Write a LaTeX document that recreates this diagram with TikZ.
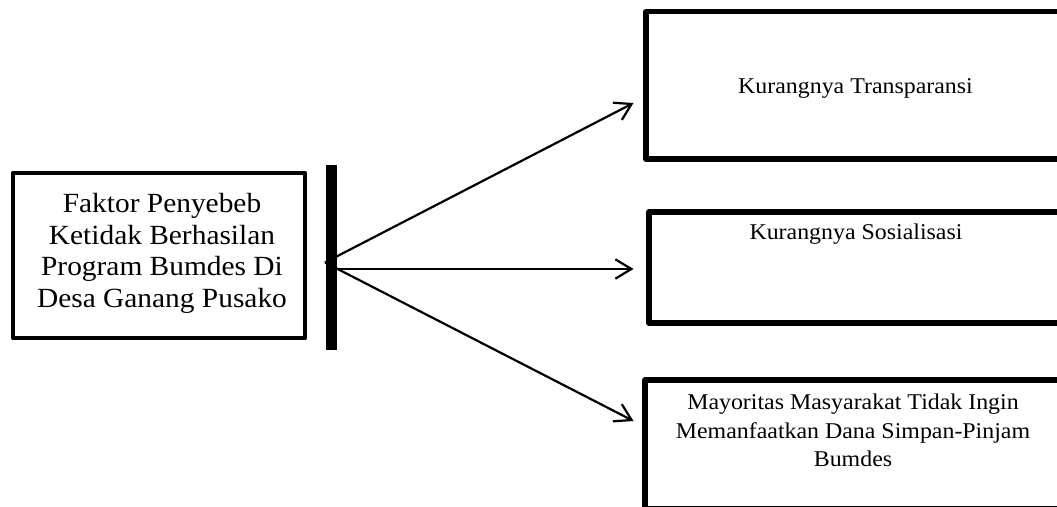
\documentclass[tikz,border=0pt]{standalone}
\usepackage{fontspec}
\setmainfont[FakeStretch=1.06]{Liberation Serif}
\usetikzlibrary{arrows.meta}
\begin{document}
\begin{tikzpicture}[x=0.75pt,y=-0.75pt,
  leftbox/.style={draw, line width=3.4pt, line join=round, inner sep=0pt, outer sep=0pt,
    minimum width=219pt, minimum height=123.75pt},
  rbox/.style={draw, line width=3.9pt, line join=round, inner sep=0pt, outer sep=0pt},
  barnode/.style={fill=black, inner sep=0pt, outer sep=0pt, minimum width=8.25pt, minimum height=138.75pt},
  bigtxt/.style={font=\fontsize{20.8pt}{23.8pt}\selectfont, align=center, inner sep=0pt},
  smalltxt/.style={font=\fontsize{16.9pt}{21.25pt}\selectfont, align=center, inner sep=0pt},
  conn/.style={line width=1.65pt, -{Straight Barb[length=12pt,width=14.5pt,line width=1.65pt]}}]
\useasboundingbox (0,0) rectangle (1057,507);
\clip (0,0) rectangle (1057,507);
\fill[white] (0,0) rectangle (1057,507);
% left box
\node[leftbox] (src) at (159,255.5) {};
\node[bigtxt] (srctxt) at (162,253.5) {Faktor Penyebeb\\Ketidak Berhasilan\\Program Bumdes Di\\Desa Ganang Pusako};
% right boxes
\node[rbox, minimum width=315pt, minimum height=110.6pt] (b1) at (856,85.25) {};
\node[rbox, minimum width=312.75pt, minimum height=83.25pt] (b2) at (857.5,267.5) {};
\node[rbox, minimum width=315.75pt, minimum height=96.4pt] (b3) at (855.5,444.25) {};
\node[smalltxt, anchor=base] (t1) at (855.5,93.3) {Kurangnya Transparansi};
\node[smalltxt, anchor=base] (t2) at (856,239.3) {Kurangnya Sosialisasi};
\node[smalltxt] (t3) at (853,430.6) {Mayoritas Masyarakat Tidak Ingin\\Memanfaatkan Dana Simpan-Pinjam\\Bumdes};
% bar
\node[barnode] (bar) at (331.5,257.5) {};
\coordinate (o) at (325,262.5);
\coordinate (om) at (332,269);
\coordinate (e1) at (633.5,103);
\coordinate (e2) at (633.5,269);
\coordinate (e3) at (633.5,421);
\draw[conn] (o) -- (e1);
\draw[conn] (om) -- (e2);
\draw[conn] (o) -- (e3);
\end{tikzpicture}
\end{document}
